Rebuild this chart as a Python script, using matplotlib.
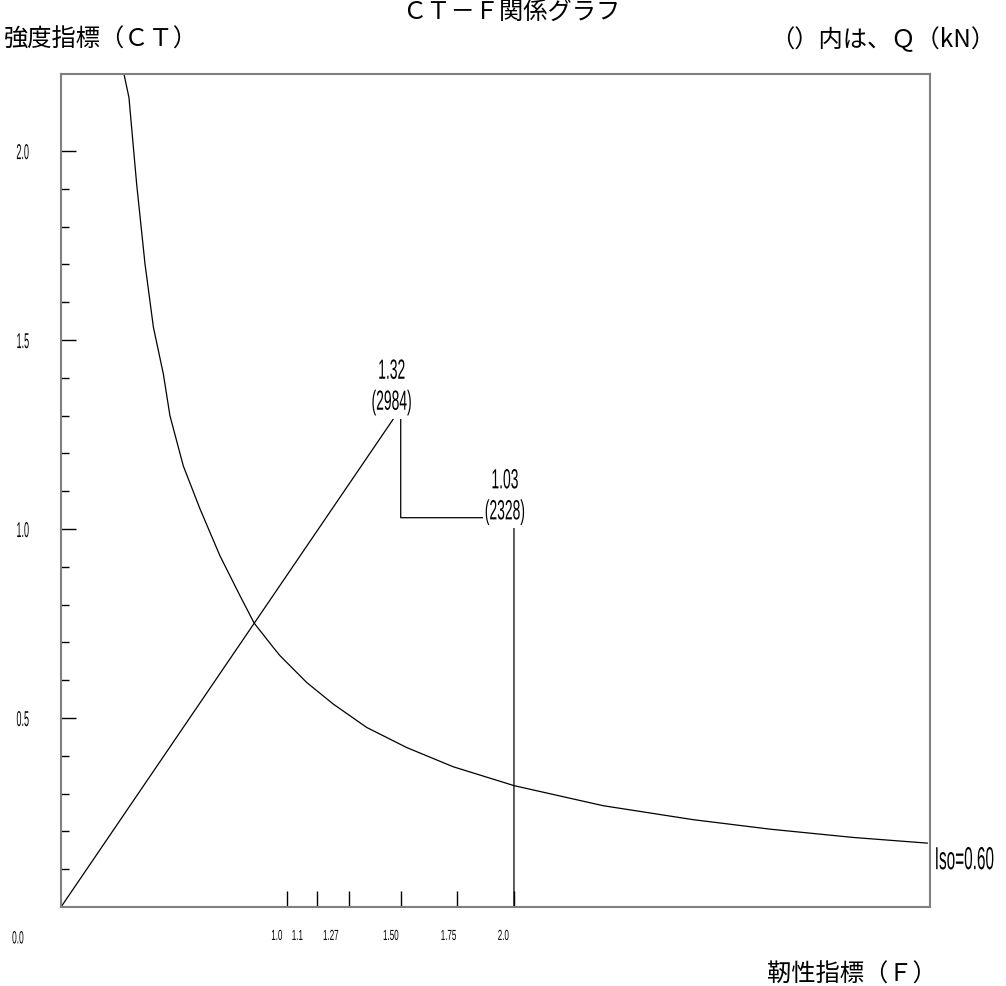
import matplotlib
matplotlib.use("Agg")
import matplotlib.pyplot as plt
from matplotlib.ticker import FixedLocator
from matplotlib.patheffects import AbstractPathEffect
import matplotlib.transforms as mtransforms

# curve (F, CT)
F_curve = [0.278, 0.300, 0.334, 0.371, 0.408, 0.452, 0.481, 0.540, 0.614, 0.702,
           0.790, 0.853, 0.937, 0.967, 1.085, 1.202, 1.350, 1.526, 1.732, 2.001,
           2.394, 2.792, 3.130, 3.498, 3.825]
CT_curve = [2.204, 2.142, 1.913, 1.701, 1.534, 1.410, 1.300, 1.167, 1.053, 0.929,
            0.824, 0.751, 0.687, 0.665, 0.594, 0.537, 0.475, 0.422, 0.371, 0.321,
            0.268, 0.231, 0.206, 0.184, 0.169]

# step path of the building
F_path = [0.0, 1.50, 1.50, 2.00, 2.00]
CT_path = [0.0, 1.32, 1.03, 1.03, 0.0]

pt_F = [1.50, 2.00]
pt_CT = [1.32, 1.03]
pt_Q = [2984, 2328]

x_ticks = [1.0, 1.13, 1.27, 1.50, 1.75, 2.0]
x_tick_labels = ["1.0", "1.1", "1.27", "1.50", "1.75", "2.0"]
y_ticks = [0.5, 1.0, 1.5, 2.0]
y_minor = [0.1, 0.2, 0.3, 0.4, 0.6, 0.7, 0.8, 0.9, 1.1, 1.2, 1.3, 1.4,
           1.6, 1.7, 1.8, 1.9]
iso = 0.60

NUM_FONT = "Liberation Sans"
jp = ["Noto Sans CJK JP", "DejaVu Sans"]
label_dx = [-5, -14, -10, -2, -1, -5]   # px shift of each x tick label


class Squeeze(AbstractPathEffect):
    # squeeze glyphs horizontally around the text's anchor (narrow font look)
    def __init__(self, text, sx):
        super().__init__()
        self.text = text
        self.sx = sx

    def draw_path(self, renderer, gc, tpath, affine, rgbFace=None):
        bb = self.text.get_window_extent(renderer)
        ha = self.text.get_horizontalalignment()
        x0 = bb.x0 if ha == "left" else (bb.x1 if ha == "right" else 0.5 * (bb.x0 + bb.x1))
        tr = affine + mtransforms.Affine2D().translate(-x0, 0).scale(self.sx, 1).translate(x0, 0)
        renderer.draw_path(gc, tpath, tr, rgbFace)


def squeeze(t, sx, box=True):
    t.set_path_effects([Squeeze(t, sx)])
    if box and t.get_bbox_patch() is not None:
        t.get_bbox_patch().set_path_effects([Squeeze(t, sx)])
    return t


fig = plt.figure(figsize=(10.06, 9.87), dpi=100)
ax = fig.add_axes([61 / 1006, 79 / 987, 869 / 1006, 833 / 987])

ax.plot(F_curve, CT_curve, color="black", lw=0.9)
ax.plot(F_path, CT_path, color="black", lw=0.9)

ax.set_xlim(0, 3.837)
ax.set_ylim(0, 2.204)

for s in ax.spines.values():
    s.set_color("#808080")
    s.set_linewidth(1.5)

ax.set_xticks(x_ticks)
ax.set_xticklabels(x_tick_labels, ha="right", family=NUM_FONT, fontsize=10.5)
ax.tick_params(axis="x", direction="in", length=11.5, width=1, pad=15.8, colors="black")
for lab, dx in zip(ax.get_xticklabels(), label_dx):
    lab.set_transform(lab.get_transform() +
                      mtransforms.ScaledTranslation(dx / 100, 0, fig.dpi_scale_trans))
    squeeze(lab, 0.55)

ax.set_yticks(y_ticks)
ax.set_yticklabels(["%.1f" % v for v in y_ticks], family=NUM_FONT, fontsize=15.5)
ax.yaxis.set_minor_locator(FixedLocator(y_minor))
ax.tick_params(axis="y", which="major", direction="in", length=11, width=1, pad=23)
ax.tick_params(axis="y", which="minor", direction="in", length=5.5, width=1)
for lab in ax.get_yticklabels():
    squeeze(lab, 0.42)

t0 = ax.annotate("0.0", xy=(0, 0), xycoords="axes fraction", xytext=(-31, -23),
                 textcoords="offset points", ha="center", va="center",
                 family=NUM_FONT, fontsize=12.8)
squeeze(t0, 0.47)

for f, c, q in zip(pt_F, pt_CT, pt_Q):
    t = ax.annotate("%.2f\n(%d)" % (c, q), xy=(f, c), xytext=(-6.5, -5.5),
                    textcoords="offset points", ha="center", va="bottom",
                    family=NUM_FONT, fontsize=20, linespacing=1.25,
                    bbox=dict(boxstyle="square,pad=0.1", fc="white", ec="none"))
    squeeze(t, 0.5)

# anchored at its right end so the real (unsqueezed) extent stays in the figure
ti = ax.annotate("Iso=%.2f" % iso, xy=(1.0, CT_curve[-1]),
                 xycoords=("axes fraction", "data"), xytext=(46, -13),
                 textcoords="offset points", ha="right", va="center",
                 family=NUM_FONT, fontsize=23, annotation_clip=False,
                 bbox=dict(boxstyle="square,pad=0.2", fc="white", ec="none"))
squeeze(ti, 0.48)

fig.text(511 / 1006, 1 - 12 / 987, "ＣＴ－Ｆ関係グラフ", ha="center", va="center",
         family=jp, fontsize=17.5)
fig.text(4 / 1006, 1 - 40 / 987, "強度指標（ＣＴ）", ha="left", va="center",
         family=jp, fontsize=17.5)
fig.text(995 / 1006, 1 - 40 / 987, "（）内は、Ｑ（kN）", ha="right", va="center",
         family=jp, fontsize=17.5)
fig.text(937 / 1006, 1 - 975 / 987, "靭性指標（Ｆ）", ha="right", va="center",
         family=jp, fontsize=17.5)

fig.savefig("out.png", dpi=100)
